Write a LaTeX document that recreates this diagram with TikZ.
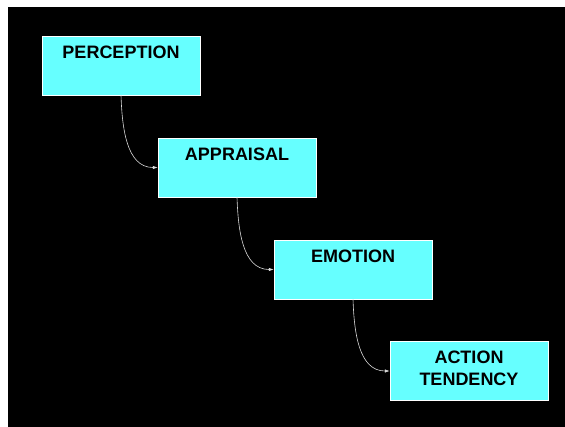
\documentclass[tikz,border=0pt]{standalone}
\usepackage{fontspec}
\setmainfont{Liberation Sans}
\usepackage{tikz}
\usetikzlibrary{positioning,arrows.meta}
\definecolor{cajacian}{RGB}{102,255,255}
\tikzstyle{caja} = [draw=white, fill=cajacian, line width=0.5pt, rectangle, minimum width=158pt, minimum height=59pt, inner sep=0pt]
\tikzstyle{titulo} = [text=black, font=\bfseries\fontsize{18}{22}\selectfont, align=center, inner sep=0pt]
\tikzstyle{flecha} = [draw=white!85!black, line width=0.6pt, -{Latex[length=5pt,width=3.5pt]}]

\begin{document}
\begin{tikzpicture}[x=1pt,y=-1pt]
	\useasboundingbox (0,0) rectangle (565,426);
	\fill[white] (0,0) rectangle (565,426);
	\fill[black] (8,7) rectangle (570,430);
	\node[caja](perc) at (121,65.5) {};
	\node[caja](apre) at (237,167.5) {};
	\node[caja](emoc) at (353,269.5) {};
	\node[caja](acci) at (469,371) {};
	\node[titulo, below=10pt] at (perc.north) {PERCEPTION};
	\node[titulo, below=10pt] at (apre.north) {APPRAISAL};
	\node[titulo, below=10pt] at (emoc.north) {EMOTION};
	\node[titulo, below=9pt] at (acci.north) {ACTION\\TENDENCY};
	\draw[flecha] (perc.south) to[out=-88,in=180] (apre.west);
	\draw[flecha] (apre.south) to[out=-88,in=180] (emoc.west);
	\draw[flecha] (emoc.south) to[out=-88,in=180] (acci.west);
\end{tikzpicture}
\end{document}
